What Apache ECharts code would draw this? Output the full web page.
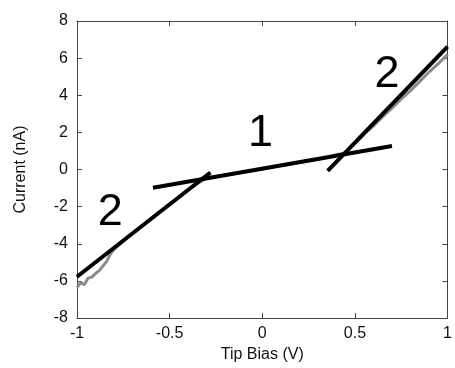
<!DOCTYPE html>
<html>
<head>
<meta charset="utf-8">
<script src="https://cdn.jsdelivr.net/npm/echarts@6/dist/echarts.min.js"></script>
<style>
html, body { margin: 0; padding: 0; background: #fff; }
#chart-panel { width: 455px; height: 368px; }
</style>
</head>
<body>
<div id="chart-panel"></div>
<script>
// measured I-V data (gray)
var biasV = [-1, -0.98, -0.96, -0.94, -0.92, -0.9, -0.88, -0.86, -0.84, -0.82, -0.8, -0.75, -0.7, -0.65, -0.6,
    -0.55, -0.5, -0.45, -0.4, -0.35, -0.3, -0.25, -0.2, -0.1, 0, 0.1, 0.2, 0.3, 0.35, 0.4, 0.45, 0.5,
    0.55, 0.6, 0.65, 0.7, 0.75, 0.8, 0.85, 0.9, 0.95, 1.0];
var currentNA = [-6.35, -6.1, -6.2, -5.85, -5.8, -5.6, -5.45, -5.2, -4.95, -4.55, -4.3, -3.85, -3.45, -3.05, -2.65,
    -2.25, -1.9, -1.5, -1.1, -0.75, -0.45, -0.38, -0.3, -0.14, 0.03, 0.2, 0.38, 0.55, 0.65, 0.8, 0.9, 1.4,
    1.9, 2.35, 2.85, 3.3, 3.8, 4.25, 4.75, 5.25, 5.7, 6.2];

// fitted lines (black)
var fitLow = [[-0.59, -0.98], [0.7, 1.27]];
var fitNeg = [[-1, -5.78], [-0.28, -0.16]];
var fitPos = [[0.353, -0.08], [1, 6.62]];

// region labels
var regionLabels = [
    { name: '2', value: [-0.82, -2.34] },
    { name: '1', value: [-0.01, 1.91] },
    { name: '2', value: [0.673, 5.09] }
];

var xTicks = [-1, -0.5, 0, 0.5, 1];

var chart = echarts.init(document.getElementById('chart-panel'));

var axisLine = { show: true, onZero: false, lineStyle: { color: '#444', width: 1 } };
var tickIn = { show: true, inside: true, length: 5, lineStyle: { color: '#444' } };
var font = 'Liberation Sans, Arial, sans-serif';

var option = {
    backgroundColor: '#fff',
    animation: false,
    grid: { left: 77, right: 5, top: 21, bottom: 50 },
    xAxis: [{
        type: 'value',
        min: -1, max: 1, interval: 0.5,
        name: 'Tip Bias (V)',
        nameLocation: 'middle',
        nameGap: 28,
        nameTextStyle: { color: '#111', fontSize: 16, fontFamily: font },
        axisLine: axisLine,
        axisTick: tickIn,
        splitLine: { show: false },
        axisLabel: {
            color: '#111', fontSize: 16, fontFamily: font, margin: 8,
            formatter: function (v) { return xTicks.indexOf(v) >= 0 ? String(v) : ''; }
        }
    }, {
        type: 'value', position: 'top',
        min: -1, max: 1, interval: 0.5,
        axisLine: axisLine, axisTick: tickIn,
        axisLabel: { show: false }, splitLine: { show: false }
    }],
    yAxis: [{
        type: 'value',
        min: -8, max: 8, interval: 2,
        name: 'Current (nA)',
        nameLocation: 'middle',
        nameGap: 48,
        nameTextStyle: { color: '#111', fontSize: 16, fontFamily: font },
        axisLine: axisLine,
        axisTick: tickIn,
        splitLine: { show: false },
        axisLabel: { color: '#111', fontSize: 16, fontFamily: font, margin: 9 }
    }, {
        type: 'value', position: 'right',
        min: -8, max: 8, interval: 2,
        axisLine: axisLine, axisTick: tickIn,
        axisLabel: { show: false }, splitLine: { show: false }
    }],
    series: [{
        name: 'data',
        type: 'line',
        data: biasV.map(function (x, i) { return [x, currentNA[i]]; }),
        showSymbol: false,
        lineStyle: { color: '#8a8a8a', width: 3 }
    }, {
        type: 'line', data: fitLow, showSymbol: false,
        lineStyle: { color: '#000', width: 4 }
    }, {
        type: 'line', data: fitNeg, showSymbol: false,
        lineStyle: { color: '#000', width: 4 }
    }, {
        type: 'line', data: fitPos, showSymbol: false,
        lineStyle: { color: '#000', width: 4 }
    }, {
        type: 'scatter',
        data: regionLabels,
        symbolSize: 0,
        itemStyle: { opacity: 1 },
        label: {
            show: true,
            position: 'inside',
            formatter: '{b}',
            color: '#000',
            fontSize: 45,
            fontFamily: font
        }
    }]
};

chart.setOption(option);
</script>
</body>
</html>
